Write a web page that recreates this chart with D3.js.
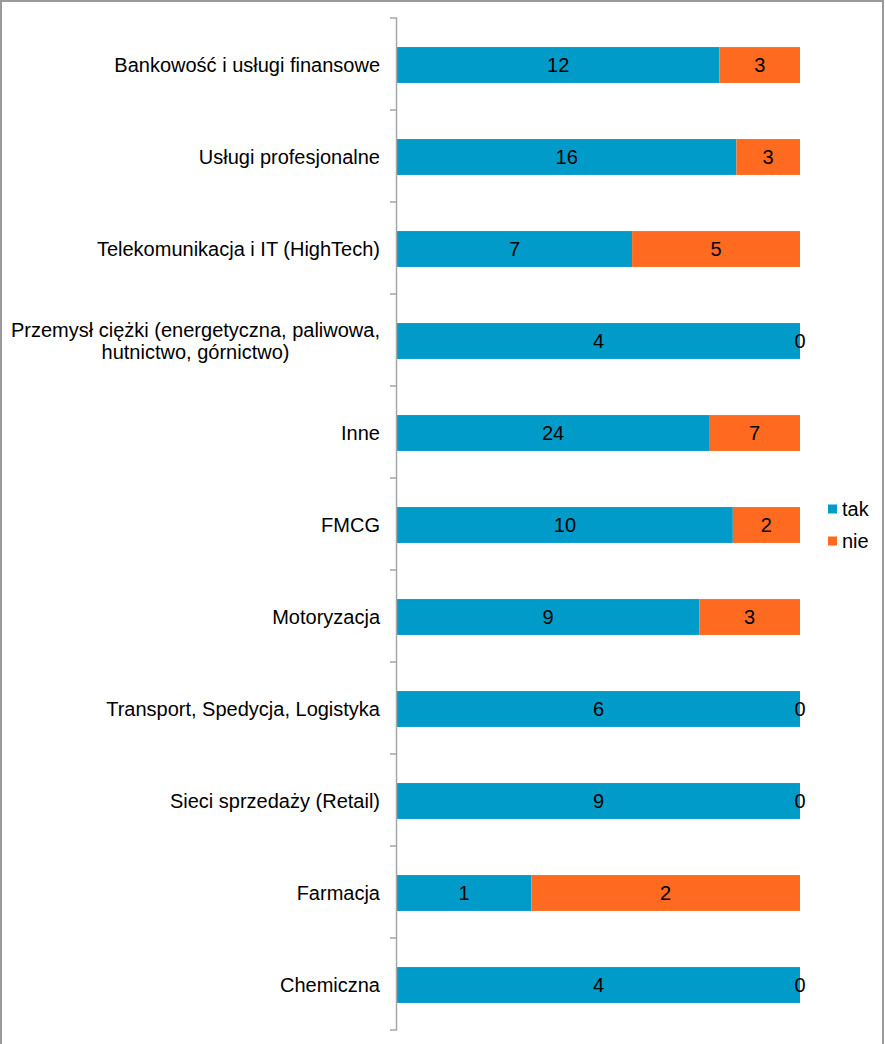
<!DOCTYPE html>
<html>
<head>
<meta charset="utf-8">
<script src="https://cdn.jsdelivr.net/npm/d3@7"></script>
<style>
  html, body { margin: 0; padding: 0; background: #fff; }
  svg { display: block; }
  text { font-family: "Liberation Sans", Arial, sans-serif; fill: #000; }
</style>
</head>
<body>
<svg id="chart" width="885" height="1044"></svg>
<script>
// Sectors and answer counts (stacked to 100%)
const categories = [
  "Bankowość i usługi finansowe",
  "Usługi profesjonalne",
  "Telekomunikacja i IT (HighTech)",
  "Przemysł ciężki (energetyczna, paliwowa,\nhutnictwo, górnictwo)",
  "Inne",
  "FMCG",
  "Motoryzacja",
  "Transport, Spedycja, Logistyka",
  "Sieci sprzedaży (Retail)",
  "Farmacja",
  "Chemiczna"
];
const takValues = [12, 16, 7, 4, 24, 10, 9, 6, 9, 1, 4];
const nieValues = [3, 3, 5, 0, 7, 2, 3, 0, 0, 2, 0];
const seriesNames = ["tak", "nie"];
const seriesColors = ["#009bc9", "#ff6a21"];

const svg = d3.select("#chart");
const W = 885, H = 1044;
const FONT = 20;

// outer frame (left, top, right)
svg.append("path")
  .attr("d", `M1,${H} V1 H${W - 2} V${H}`)
  .attr("fill", "none")
  .attr("stroke", "#9a9a9a")
  .attr("stroke-width", 2);

const plot = { left: 397, right: 800, top: 18, bottom: 1030 };

const rows = categories.map((c, i) => ({ cat: c, tak: takValues[i], nie: nieValues[i] }));
const stacked = d3.stack().keys(seriesNames).offset(d3.stackOffsetExpand)(rows);

const x = d3.scaleLinear().domain([0, 1]).range([plot.left, plot.right]);
const y = d3.scaleBand()
  .domain(categories)
  .range([plot.top + 1, plot.bottom + 1])
  .paddingInner(0.61)
  .paddingOuter(0.305);

// bars
stacked.forEach((layer, si) => {
  const g = svg.append("g");
  g.selectAll("rect")
    .data(layer)
    .join("rect")
    .attr("x", d => x(d[0]))
    .attr("y", d => y(d.data.cat))
    .attr("width", d => x(d[1]) - x(d[0]))
    .attr("height", y.bandwidth())
    .attr("fill", seriesColors[si]);
  g.selectAll("text")
    .data(layer)
    .join("text")
    .attr("x", d => (x(d[0]) + x(d[1])) / 2)
    .attr("y", d => y(d.data.cat) + y.bandwidth() / 2)
    .attr("dy", "0.36em")
    .attr("text-anchor", "middle")
    .attr("font-size", FONT)
    .text(d => d.data[seriesNames[si]]);
});

// category axis: vertical line with ticks between categories
const axisG = svg.append("g");
axisG.append("line")
  .attr("x1", plot.left - 0.5).attr("x2", plot.left - 0.5)
  .attr("y1", plot.top).attr("y2", plot.bottom)
  .attr("stroke", "#a6a6a6").attr("stroke-width", 1.5);
const step = (plot.bottom - plot.top) / categories.length;
const tickYs = d3.range(categories.length + 1).map(k => plot.top + k * step);
axisG.selectAll("line.tick")
  .data(tickYs)
  .join("line")
  .attr("class", "tick")
  .attr("x1", plot.left - 7).attr("x2", plot.left)
  .attr("y1", d => d).attr("y2", d => d)
  .attr("stroke", "#a6a6a6").attr("stroke-width", 1.5);

// category labels: right-aligned block, lines centred within the block
const labels = svg.append("g");
const labelRight = 380;
categories.forEach(c => {
  const lines = c.split("\n");
  const cy = y(c) + y.bandwidth() / 2;
  const lh = 22;
  const t = labels.append("text")
    .attr("font-size", FONT);
  const spans = lines.map((ln, i) =>
    t.append("tspan")
      .attr("y", cy + (i - (lines.length - 1) / 2) * lh)
      .attr("dy", "0.36em")
      .text(ln));
  if (lines.length === 1) {
    t.attr("text-anchor", "end");
    spans[0].attr("x", labelRight);
  } else {
    const widest = d3.max(spans, s => s.node().getComputedTextLength());
    t.attr("text-anchor", "middle");
    spans.forEach(s => s.attr("x", labelRight - widest / 2));
  }
});

// legend
const legend = svg.append("g");
seriesNames.forEach((s, i) => {
  const ly = 509 + i * 32;
  legend.append("rect")
    .attr("x", 828).attr("y", ly - 4.5)
    .attr("width", 9).attr("height", 9)
    .attr("fill", seriesColors[i]);
  legend.append("text")
    .attr("x", 842).attr("y", ly)
    .attr("dy", "0.36em")
    .attr("font-size", FONT)
    .text(s);
});
</script>
</body>
</html>
